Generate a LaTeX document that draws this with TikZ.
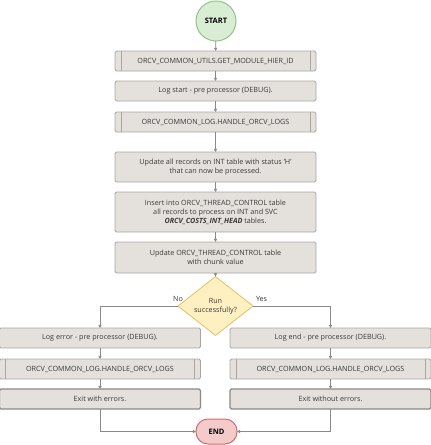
\documentclass[tikz,border=0pt]{standalone}
\usepackage{fontspec}
\setmainfont{Open Sans}
\usetikzlibrary{arrows.meta,shapes.geometric}
\definecolor{boxfill}{HTML}{E4E1DC}
\definecolor{boxline}{HTML}{A9A6A1}
\definecolor{exitline}{HTML}{8C8985}
\definecolor{linec}{HTML}{8A8A8A}
\definecolor{txt}{HTML}{3A3A3A}
\definecolor{startfill}{HTML}{D9EDD5}
\definecolor{startline}{HTML}{8CC784}
\definecolor{decfill}{HTML}{FFF0C2}
\definecolor{decline}{HTML}{E5C063}
\definecolor{endfill}{HTML}{F5CACA}
\definecolor{endline}{HTML}{CF6E6E}
\tikzset{
  x=1pt, y=-1pt,
  every node/.style={font=\fontsize{7.2}{9}\selectfont, text=txt, inner sep=0pt, outer sep=0pt},
  proc/.style={draw=boxline, fill=boxfill, line width=0.8pt, rounded corners=1.5pt, minimum width=201pt, align=center},
  exitbox/.style={proc, draw=exitline, line width=1.4pt},
  conn/.style={draw=linec, line width=0.7pt, -{Triangle[width=3.2pt,length=3.2pt]}},
  sublines/.style={draw=boxline, line width=0.8pt}
}
\begin{document}
\begin{tikzpicture}
\useasboundingbox (0,0) rectangle (431,445);
\node[circle, draw=startline, fill=startfill, line width=1pt, minimum size=40pt, font=\fontsize{7.5}{9}\selectfont\bfseries, text=black] (start) at (216,21) {START};
\node[proc, minimum height=20pt] (b1) at (215.5,61) {ORCV\_COMMON\_UTILS.GET\_MODULE\_HIER\_ID};
\node[proc, minimum height=20pt] (b2) at (215.5,91) {Log start - pre processor (DEBUG).};
\node[proc, minimum height=20pt] (b3) at (215.5,122) {ORCV\_COMMON\_LOG.HANDLE\_ORCV\_LOGS};
\node[proc, minimum height=30pt] (b4) at (215.5,167) {Update all records on INT table with status 'H'\\that can now be processed.};
\node[proc, minimum height=40pt] (b5) at (215.5,212) {Insert into ORCV\_THREAD\_CONTROL table\\all records to process on INT and SVC\\\textbf{\textit{ORCV\_COSTS\_INT\_HEAD}} tables.};
\node[proc, minimum height=31pt] (b6) at (215.5,257.5) {Update ORCV\_THREAD\_CONTROL table\\with chunk value};
\node[diamond, draw=decline, fill=decfill, line width=0.8pt, minimum width=75pt, minimum height=46pt, align=center] (dec) at (215.5,306) {Run\\successfully?};
\node[proc, minimum height=20pt] (l1) at (100,338) {Log error - pre processor (DEBUG).};
\node[proc, minimum height=20pt] (l2) at (100,369) {ORCV\_COMMON\_LOG.HANDLE\_ORCV\_LOGS};
\node[exitbox, minimum height=20pt] (l3) at (100,399) {Exit with errors.};
\node[proc, minimum height=20pt] (r1) at (330.5,338) {Log end - pre processor (DEBUG).};
\node[proc, minimum height=20pt] (r2) at (330.5,369) {ORCV\_COMMON\_LOG.HANDLE\_ORCV\_LOGS};
\node[exitbox, minimum height=20pt] (r3) at (330.5,399) {Exit without errors.};
\node[draw=endline, fill=endfill, line width=1pt, rounded corners=12pt, minimum width=41pt, minimum height=25pt, font=\fontsize{7.5}{9}\selectfont\bfseries, text=black] (end) at (216.5,431.5) {END};
% subroutine lines
\foreach \n in {b1,b3,l2,r2}{
  \draw[sublines] ([xshift=6pt]\n.north west) -- ([xshift=6pt]\n.south west);
  \draw[sublines] ([xshift=-6pt]\n.north east) -- ([xshift=-6pt]\n.south east);
}
% connectors
\draw[conn] (start) -- (b1);
\draw[conn] (b1) -- (b2);
\draw[conn] (b2) -- (b3);
\draw[conn] (b3) -- (b4);
\draw[conn] (b4) -- (b5);
\draw[conn] (b5) -- (b6);
\draw[conn] (b6) -- (dec);
\draw[conn] (dec.west) -| (l1.north);
\draw[conn] (dec.east) -| (r1.north);
\draw[conn] (l1) -- (l2);
\draw[conn] (l2) -- (l3);
\draw[conn] (r1) -- (r2);
\draw[conn] (r2) -- (r3);
\draw[conn] (l3.south) |- (end.west);
\draw[conn] (r3.south) |- (end.east);
\node[anchor=south] (no) at (178,302) {No};
\node[anchor=south west] (yes) at (256,302) {Yes};
\end{tikzpicture}
\end{document}
